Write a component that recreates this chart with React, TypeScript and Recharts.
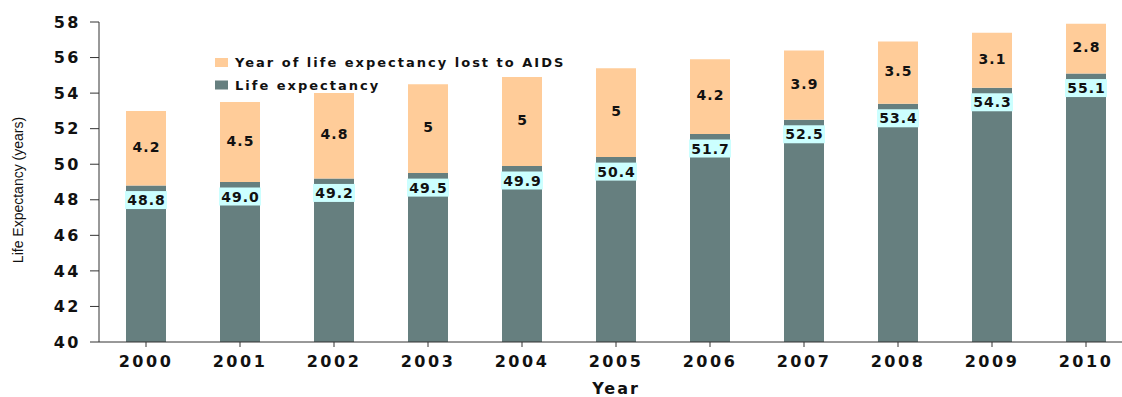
import React from "react";
import { BarChart, Bar, XAxis, YAxis, LabelList, Label, Customized } from "recharts";

const years = ["2000", "2001", "2002", "2003", "2004", "2005", "2006", "2007", "2008", "2009", "2010"];
const lifeExpectancy = [48.8, 49.0, 49.2, 49.5, 49.9, 50.4, 51.7, 52.5, 53.4, 54.3, 55.1];
const yearsLost = [4.2, 4.5, 4.8, 5, 5, 5, 4.2, 3.9, 3.5, 3.1, 2.8];
const yTicks = [40, 42, 44, 46, 48, 50, 52, 54, 56, 58];

const TEAL = "#667f7f";
const PEACH = "#ffcc99";
const CYAN = "#ccffff";
const BOLD = "'DejaVu Sans', Verdana, sans-serif";

const data = years.map((year, i) => ({
  year,
  life: lifeExpectancy[i],
  lost: yearsLost[i],
}));

const lifeLabel = (props: any) => {
  const { x, y, width, value } = props;
  const boxY = y + 5.5;
  return (
    <g>
      <rect x={x - 1} y={boxY} width={width + 2} height={18} fill={CYAN} />
      <text
        x={x + width / 2 + 0.5}
        y={boxY + 9}
        textAnchor="middle"
        dominantBaseline="central"
        fontFamily={BOLD}
        fontWeight="bold"
        fontSize={14}
        letterSpacing={1}
        fill="#111"
      >
        {Number(value).toFixed(1)}
      </text>
    </g>
  );
};

const lostLabel = (props: any) => {
  const { x, y, width, height, value } = props;
  return (
    <text
      x={x + width / 2 + 0.5}
      y={y + height / 2 - 1.5}
      textAnchor="middle"
      dominantBaseline="central"
      fontFamily={BOLD}
      fontWeight="bold"
      fontSize={14}
      letterSpacing={1}
      fill="#111"
    >
      {String(value)}
    </text>
  );
};

const legendItems = [
  { name: "Year of life expectancy lost to AIDS", color: PEACH },
  { name: "Life expectancy", color: TEAL },
];

// Two-row legend drawn inside the plot area, upper left
const LegendBox = () => (
  <g>
    {legendItems.map((it, i) => (
      <g key={it.name}>
        <rect x={215} y={58 + i * 22.5} width={13} height={9} fill={it.color} />
        <text
          x={235}
          y={62.5 + i * 22.5}
          dominantBaseline="central"
          fontFamily={BOLD}
          fontWeight="bold"
          fontSize={13}
          letterSpacing={2}
          fill="#111"
        >
          {it.name}
        </text>
      </g>
    ))}
  </g>
);

const YTitle = () => (
  <text
    transform="rotate(-90, 18, 190)"
    x={18}
    y={190}
    textAnchor="middle"
    dominantBaseline="central"
    fontFamily="'Liberation Sans', Arial, sans-serif"
    fontSize={14}
    fill="#111"
  >
    Life Expectancy (years)
  </text>
);

export default function App() {
  return (
    <div style={{ position: "absolute", left: 0, top: 0, width: 1122, height: 397, overflow: "hidden", background: "#fff" }}>
      <BarChart
        width={1140}
        height={397}
        data={data}
        margin={{ top: 22, right: 7, bottom: 0, left: 0 }}
        barSize={40}
      >
        <XAxis
          dataKey="year"
          axisLine={{ stroke: "#333" }}
          tickLine={{ stroke: "#333" }}
          tickSize={5}
          tickMargin={9}
          height={55}
          interval={0}
          tick={{ fontFamily: BOLD, fontWeight: "bold", fontSize: 16, letterSpacing: 2.5, fill: "#111" }}
        >
          <Label
            value="Year"
            position="insideBottom"
            offset={3}
            style={{ fontFamily: BOLD, fontWeight: "bold", fontSize: 16, letterSpacing: 2, fill: "#111" }}
          />
        </XAxis>
        <YAxis
          domain={[40, 58]}
          allowDataOverflow
          ticks={yTicks}
          interval={0}
          width={99}
          axisLine={{ stroke: "#333" }}
          tickLine={{ stroke: "#333" }}
          tickSize={9}
          tickMargin={9}
          tick={{ fontFamily: BOLD, fontWeight: "bold", fontSize: 16, letterSpacing: 2.5, fill: "#111" }}
        >
          <Label content={<YTitle />} />
        </YAxis>
        <Bar dataKey="life" stackId="a" fill={TEAL} isAnimationActive={false} name="Life expectancy">
          <LabelList dataKey="life" content={lifeLabel} />
        </Bar>
        <Bar dataKey="lost" stackId="a" fill={PEACH} isAnimationActive={false} name="Year of life expectancy lost to AIDS">
          <LabelList dataKey="lost" content={lostLabel} />
        </Bar>
        <Customized component={LegendBox} />
      </BarChart>
    </div>
  );
}
